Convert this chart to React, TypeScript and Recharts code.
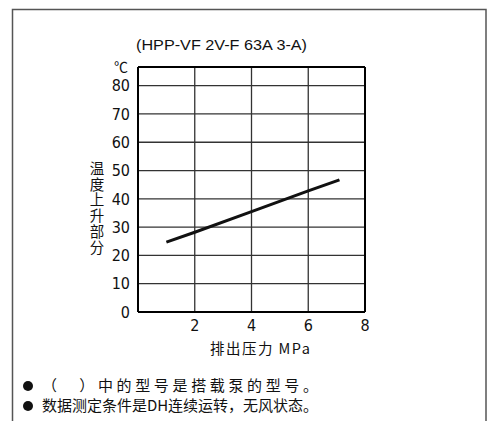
import React from "react";
import { LineChart, Line, XAxis, YAxis, CartesianGrid, ReferenceLine } from "recharts";

const pressure = [1.0, 2.0, 4.0, 6.0, 7.1];
const tempRise = [24.7, 28.2, 35.5, 42.8, 46.7];
const xTicks = [2, 4, 6, 8];
const yTicks = [0, 10, 20, 30, 40, 50, 60, 70, 80];
const yMax = 86.6;
const xMax = 8;

const title = "(HPP-VF 2V-F 63A 3-A)";
const unitLabel = "℃";
const yLabel = "温度上升部分";
const xLabel = "排出压力 MPa";
const notes = ["（　）中的型号是搭载泵的型号。", "数据测定条件是DH连续运转，无风状态。"];

const data = pressure.map((p, i) => ({ p, t: tempRise[i] }));

const numFont = "'Liberation Sans Narrow', 'DejaVu Sans Condensed', 'Liberation Sans', sans-serif";
const cjkFont = "'Noto Sans CJK SC', sans-serif";

export default function App() {
  return (
    <div style={{ position: "absolute", left: 0, top: 0, width: 490, height: 421, background: "#fff" }}>
      <LineChart
        width={490}
        height={421}
        data={data}
        margin={{ top: 67, right: 125, bottom: 69, left: 78 }}
      >
        <CartesianGrid stroke="#333" strokeWidth={1.3} horizontalValues={yTicks} verticalValues={xTicks} />
        <XAxis
          dataKey="p"
          type="number"
          domain={[0, xMax]}
          ticks={xTicks}
          axisLine={false}
          tickLine={false}
          tick={{ fill: "#111", fontSize: 16, fontFamily: numFont }}
          height={40}
        />
        <YAxis
          type="number"
          domain={[0, yMax]}
          ticks={yTicks}
          axisLine={false}
          tickLine={false}
          width={60}
          tick={{ fill: "#111", fontSize: 16, fontFamily: numFont }}
        />
        <ReferenceLine x={0} stroke="#000" strokeWidth={2} />
        <ReferenceLine x={xMax} stroke="#000" strokeWidth={2} />
        <ReferenceLine y={0} stroke="#000" strokeWidth={2} />
        <ReferenceLine y={yMax} stroke="#000" strokeWidth={2} />
        <Line
          type="linear"
          dataKey="t"
          stroke="#111"
          strokeWidth={3}
          dot={false}
          isAnimationActive={false}
        />
      </LineChart>
      <svg
        width={490}
        height={421}
        style={{ position: "absolute", left: 0, top: 0, pointerEvents: "none" }}
      >
        <path d="M12.5 421 L12.5 9.5 L486 9.5 L486 421" fill="none" stroke="#555" strokeWidth={1.5} />
        <text x={136} y={50} fontSize={15} fontFamily="'Liberation Sans', Arial, sans-serif" fill="#111" textLength={171} lengthAdjust="spacingAndGlyphs">
          {title}
        </text>
        <text x={121} y={72} fontSize={14} fontFamily={cjkFont} fill="#111" textAnchor="middle">
          {unitLabel}
        </text>
        <text
          x={97}
          y={161}
          fontSize={14.5}
          fontFamily={cjkFont}
          fill="#111"
          style={{ writingMode: "vertical-rl", textOrientation: "upright", letterSpacing: 1.3 }}
        >
          {yLabel}
        </text>
        <text x={210} y={354} fontSize={14.5} fontFamily={cjkFont} fill="#111" textLength={100} lengthAdjust="spacing">
          {xLabel}
        </text>
        <circle cx={28} cy={386} r={5} fill="#111" />
        <circle cx={28} cy={406} r={5} fill="#111" />
        <text x={42} y={391} fontSize={15} fontFamily={cjkFont} fill="#111" textLength={276} lengthAdjust="spacing">
          {notes[0]}
        </text>
        <text x={42} y={411} fontSize={15} fontFamily={cjkFont} fill="#111" textLength={276} lengthAdjust="spacing">
          {notes[1]}
        </text>
      </svg>
    </div>
  );
}
